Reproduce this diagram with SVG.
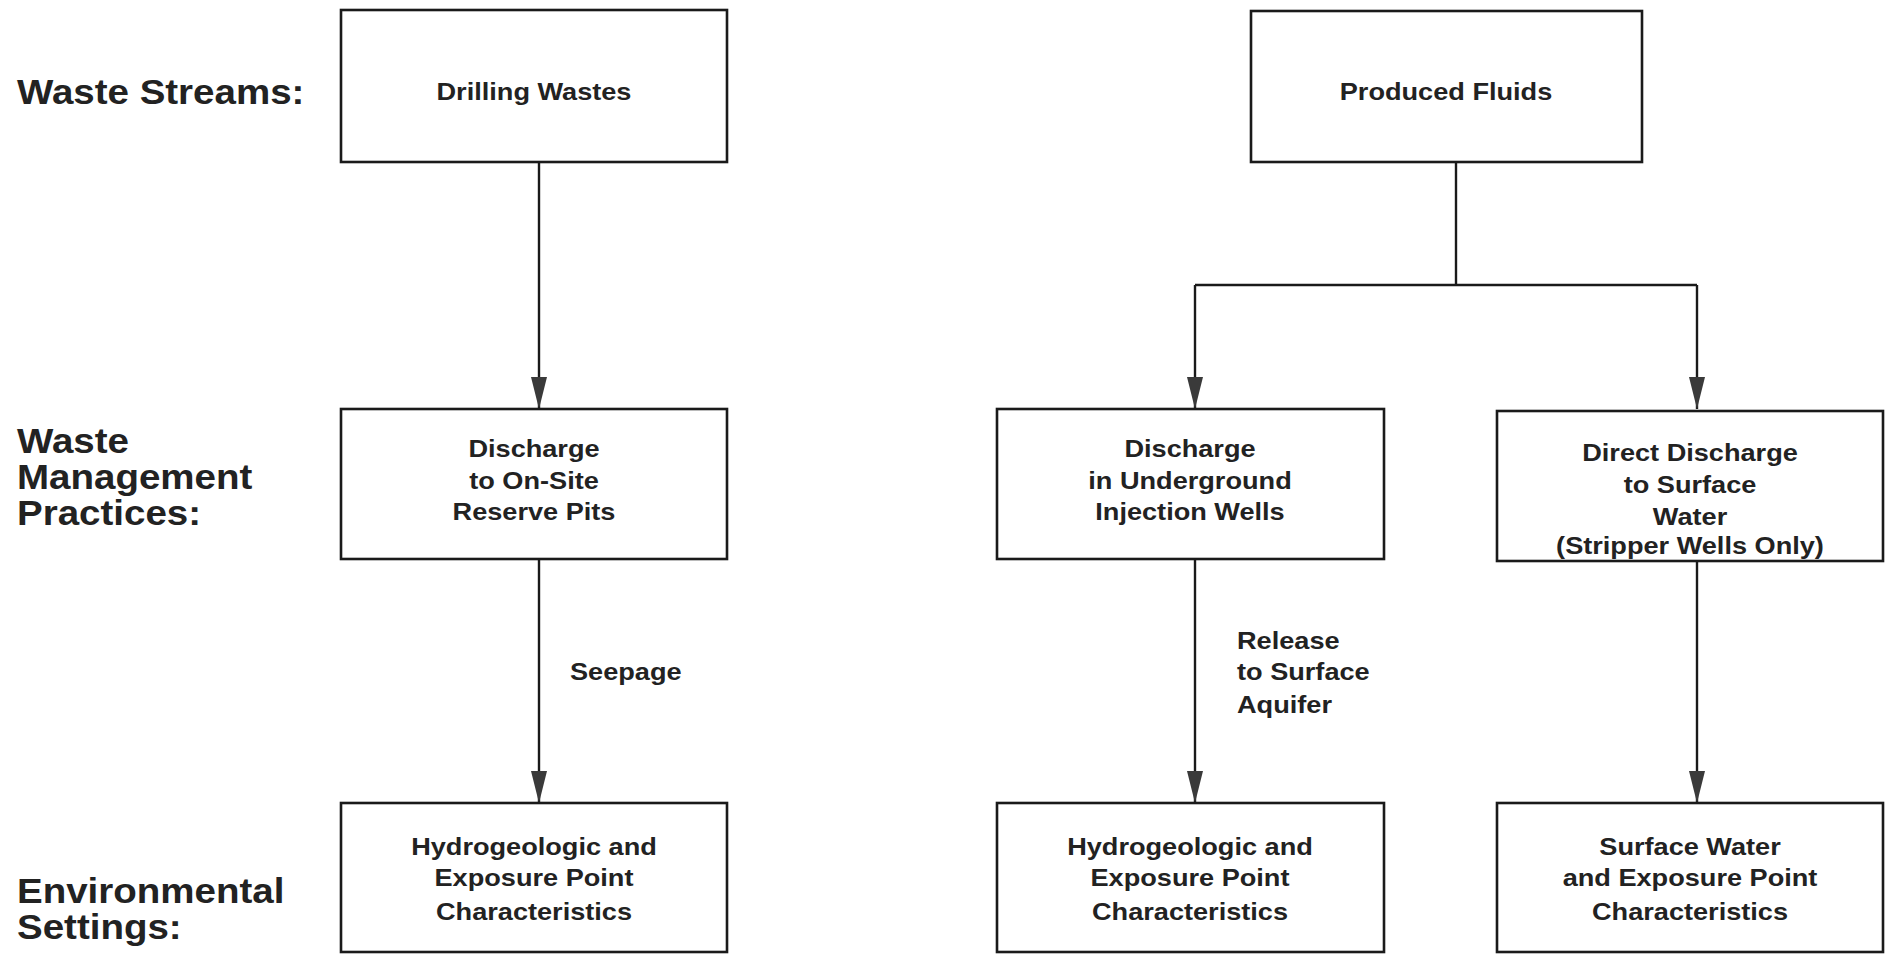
<svg xmlns="http://www.w3.org/2000/svg" width="1889" height="957" viewBox="0 0 1889 957">
<style>
.box{fill:#fff;stroke:#1a1a1a;stroke-width:2.6}
.t{font-family:"Liberation Sans",Arial,sans-serif;font-weight:bold;font-size:23px;fill:#222;text-anchor:middle}
.h{font-family:"Liberation Sans",Arial,sans-serif;font-weight:bold;font-size:35px;fill:#222}
.c{fill:none;stroke:#1a1a1a;stroke-width:2.4}
.cl{font-family:"Liberation Sans",Arial,sans-serif;font-weight:bold;font-size:23px;fill:#222}
</style>
<defs>
<marker id="ah" markerUnits="userSpaceOnUse" markerWidth="32" markerHeight="16" refX="32" refY="8" orient="auto">
<path d="M0,0 L32,8 L0,16 z" fill="#3a3a3a"/>
</marker>
</defs>
<rect width="1889" height="957" fill="#fff"/>
<g id="row-labels">
<text class="h" transform="translate(17,104) scale(1.1,1)">Waste Streams:</text>
<text class="h" transform="translate(17,453) scale(1.1,1)">Waste</text>
<text class="h" transform="translate(17,489) scale(1.1,1)">Management</text>
<text class="h" transform="translate(17,525) scale(1.1,1)">Practices:</text>
<text class="h" transform="translate(17,903) scale(1.1,1)">Environmental</text>
<text class="h" transform="translate(17,939) scale(1.1,1)">Settings:</text>
</g>
<g id="connectors">
<line class="c" x1="539" y1="162" x2="539" y2="409" marker-end="url(#ah)"/>
<path class="c" d="M1456,162 V285"/>
<path class="c" d="M1195,285 H1697"/>
<line class="c" x1="1195" y1="285" x2="1195" y2="409" marker-end="url(#ah)"/>
<line class="c" x1="1697" y1="285" x2="1697" y2="409" marker-end="url(#ah)"/>
<line class="c" x1="539" y1="559" x2="539" y2="803" marker-end="url(#ah)"/>
<line class="c" x1="1195" y1="559" x2="1195" y2="803" marker-end="url(#ah)"/>
<line class="c" x1="1697" y1="561" x2="1697" y2="803" marker-end="url(#ah)"/>
<text class="cl" transform="translate(570,680) scale(1.18,1)">Seepage</text>
<text class="cl" transform="translate(1237,649) scale(1.18,1)">Release</text>
<text class="cl" transform="translate(1237,680) scale(1.18,1)">to Surface</text>
<text class="cl" transform="translate(1237,713) scale(1.18,1)">Aquifer</text>
</g>
<g id="drilling-wastes">
<rect class="box" x="341" y="10" width="386" height="152"/>
<text class="t" transform="translate(534,100) scale(1.18,1)">Drilling Wastes</text>
</g>
<g id="produced-fluids">
<rect class="box" x="1251" y="11" width="391" height="151"/>
<text class="t" transform="translate(1446,100) scale(1.18,1)">Produced Fluids</text>
</g>
<g id="reserve-pits">
<rect class="box" x="341" y="409" width="386" height="150"/>
<text class="t" transform="translate(534,457) scale(1.18,1)">Discharge</text>
<text class="t" transform="translate(534,489) scale(1.18,1)">to On-Site</text>
<text class="t" transform="translate(534,520) scale(1.18,1)">Reserve Pits</text>
</g>
<g id="injection-wells">
<rect class="box" x="997" y="409" width="387" height="150"/>
<text class="t" transform="translate(1190,457) scale(1.18,1)">Discharge</text>
<text class="t" transform="translate(1190,489) scale(1.18,1)">in Underground</text>
<text class="t" transform="translate(1190,520) scale(1.18,1)">Injection Wells</text>
</g>
<g id="surface-discharge">
<rect class="box" x="1497" y="411" width="386" height="150"/>
<text class="t" transform="translate(1690,461) scale(1.18,1)">Direct Discharge</text>
<text class="t" transform="translate(1690,493) scale(1.18,1)">to Surface</text>
<text class="t" transform="translate(1690,525) scale(1.18,1)">Water</text>
<text class="t" transform="translate(1690,554) scale(1.18,1)">(Stripper Wells Only)</text>
</g>
<g id="hydro-left">
<rect class="box" x="341" y="803" width="386" height="149"/>
<text class="t" transform="translate(534,855) scale(1.18,1)">Hydrogeologic and</text>
<text class="t" transform="translate(534,886) scale(1.18,1)">Exposure Point</text>
<text class="t" transform="translate(534,920) scale(1.18,1)">Characteristics</text>
</g>
<g id="hydro-mid">
<rect class="box" x="997" y="803" width="387" height="149"/>
<text class="t" transform="translate(1190,855) scale(1.18,1)">Hydrogeologic and</text>
<text class="t" transform="translate(1190,886) scale(1.18,1)">Exposure Point</text>
<text class="t" transform="translate(1190,920) scale(1.18,1)">Characteristics</text>
</g>
<g id="surface-water">
<rect class="box" x="1497" y="803" width="386" height="149"/>
<text class="t" transform="translate(1690,855) scale(1.18,1)">Surface Water</text>
<text class="t" transform="translate(1690,886) scale(1.18,1)">and Exposure Point</text>
<text class="t" transform="translate(1690,920) scale(1.18,1)">Characteristics</text>
</g>
</svg>
